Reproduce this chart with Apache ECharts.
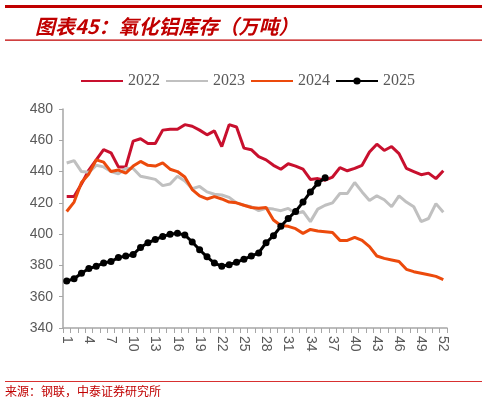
<!DOCTYPE html>
<html><head><meta charset="utf-8">
<script src="https://cdn.jsdelivr.net/npm/echarts@6/dist/echarts.min.js"></script>
<style>html,body{margin:0;padding:0;background:#fff}#c{width:487px;height:405px}</style>
</head><body><div id="c"></div>
<script>
const weeks = Array.from({length: 52}, (_, i) => String(i + 1));
const yTicks = [340, 360, 380, 400, 420, 440, 460, 480];
const s2022 = [424,424,432,441,447.5,454,452,443,443,459.5,461,458,458,466.5,467,467,470,469,466.5,463.5,466,456,470,468.5,455,454,449.5,447.5,444,441.5,445,443.5,441.5,435,435.5,434.5,436.5,442.5,440.5,442,444,452.5,457.5,453.5,456,451.5,442,440,438,439,435.5,440.5];
const s2023 = [445.5,447,440,439.5,444,443,440,438.5,442,442,437,436,435,431,432,437,434,429,430.5,427,425.5,425,423.5,420,418.5,417.5,415,416.5,416,415,416.5,413,414.5,408,416,418.5,420,426,426,433,427,421.5,424.5,422,417.5,424.5,420.5,417.5,408,410,419.5,414];
const s2024 = [414.5,420.5,433,438.5,447.5,446,440,441,439,443.5,446.5,444,443.5,445.5,441.5,440,436.5,428.5,424.5,422.5,424,422.5,420.5,420,418.5,417,416.5,417,409,405.5,405,403.5,400.5,403,402,401.5,401,396,396,398,396,392,386,384.5,383.5,382.5,377.5,376,375,374,373,371];
const s2025 = [370,371.5,375,378,379.5,381.5,382.5,385,386,387,391.5,394.5,396.5,398.5,400,400.5,399.5,395,390,385.5,381.5,379.5,380.5,382,384,386,388,394.5,399,405,410,414.5,420.5,427,432.5,436];

const RED = '#c00000';
const chart = echarts.init(document.getElementById('c'), null, {renderer: 'canvas'});
const lineSeries = (name, data, color, withDots) => ({
  name, type: 'line', data,
  symbol: withDots ? 'circle' : 'none',
  symbolSize: 7,
  showSymbol: withDots,
  showAllSymbol: true,
  itemStyle: {color},
  lineStyle: {color, width: 3},
  emphasis: {disabled: true},
  animation: false
});
chart.setOption({
  animation: false,
  title: {
    text: '图表45：氧化铝库存（万吨）',
    left: 30, top: 11,
    textStyle: {color: RED, fontSize: 20, fontWeight: 'bold', fontStyle: 'italic', fontFamily: 'Noto Sans CJK SC'}
  },
  graphic: [
    {type: 'rect', shape: {x: 5, y: 5, width: 477, height: 3}, style: {fill: RED}},
    {type: 'rect', shape: {x: 5, y: 39.5, width: 477, height: 1.2}, style: {fill: RED}},
    {type: 'rect', shape: {x: 5, y: 381, width: 477, height: 1}, style: {fill: '#d83030'}},
    {type: 'text', left: 5, top: 385, style: {text: '来源：钢联，中泰证券研究所', fill: RED, fontSize: 12, fontFamily: 'Noto Sans CJK SC'}}
  ],
  legend: {
    left: 75, top: 68,
    itemWidth: 42, itemHeight: 9, itemGap: 5,
    textStyle: {color: '#595959', fontSize: 16, fontFamily: 'Liberation Serif'},
    data: [
      {name: '2022', itemStyle: {opacity: 0}},
      {name: '2023', itemStyle: {opacity: 0}},
      {name: '2024', itemStyle: {opacity: 0}},
      {name: '2025'}
    ]
  },
  grid: {left: 63, right: 40, top: 109, bottom: 77},
  xAxis: {
    type: 'category', data: weeks, boundaryGap: true,
    axisLine: {lineStyle: {color: '#a6a6a6', width: 1.5}},
    axisTick: {show: true, interval: 0, length: 5, lineStyle: {color: '#a6a6a6'}},
    axisLabel: {interval: 2, rotate: -90, color: '#595959', fontSize: 14, fontFamily: 'Liberation Sans', margin: 8}
  },
  yAxis: {
    type: 'value', min: yTicks[0], max: yTicks[yTicks.length - 1], interval: 20,
    axisLine: {show: true, lineStyle: {color: '#a6a6a6', width: 1.5}},
    axisTick: {show: true, length: 4, lineStyle: {color: '#a6a6a6'}},
    splitLine: {show: false},
    axisLabel: {color: '#595959', fontSize: 14, fontFamily: 'Liberation Sans', margin: 10}
  },
  series: [
    lineSeries('2022', s2022, '#c8102e', false),
    lineSeries('2023', s2023, '#c0c0c0', false),
    lineSeries('2024', s2024, '#ec4a0c', false),
    lineSeries('2025', s2025, '#000000', true)
  ]
});
</script>
</body></html>
